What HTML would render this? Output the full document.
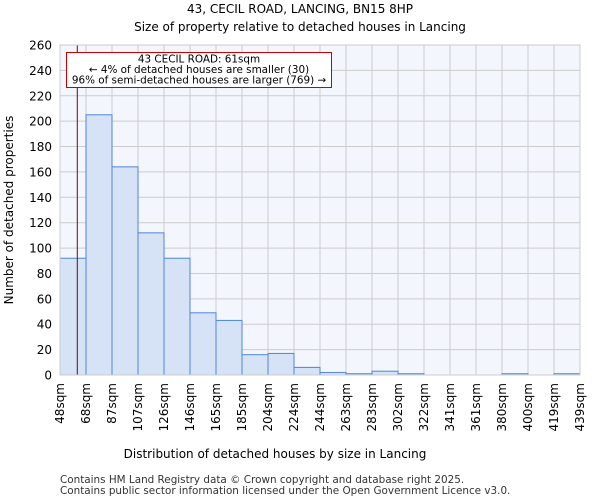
<!DOCTYPE html>
<html><head><meta charset="utf-8"><style>
body{margin:0;background:#fff;font-family:"DejaVu Sans","Liberation Sans",sans-serif}
</style></head><body>
<svg id="c" width="600" height="500" xmlns="http://www.w3.org/2000/svg">
<text x="300" y="13" text-anchor="middle" font-size="12">43, CECIL ROAD, LANCING, BN15 8HP</text>
<text x="300" y="31" text-anchor="middle" font-size="12">Size of property relative to detached houses in Lancing</text>
<rect x="60" y="45" width="520" height="330" fill="#f3f6fd"/>
<g id="grid"></g><g id="bars"></g><g id="axes"></g>
<text x="275" y="458" text-anchor="middle" font-size="12">Distribution of detached houses by size in Lancing</text>
<text transform="translate(13,210) rotate(-90)" text-anchor="middle" font-size="12">Number of detached properties</text>
<text x="60" y="483" font-size="10.4" fill="#333">Contains HM Land Registry data © Crown copyright and database right 2025.</text>
<text x="60" y="494" font-size="10.4" fill="#333">Contains public sector information licensed under the Open Government Licence v3.0.</text>
</svg>
<script>
const categories=["48sqm","68sqm","87sqm","107sqm","126sqm","146sqm","165sqm","185sqm","204sqm","224sqm","244sqm","263sqm","283sqm","302sqm","322sqm","341sqm","361sqm","380sqm","400sqm","419sqm","439sqm"];
const counts=[92,205,164,112,92,49,43,16,17,6,2,1,3,1,0,0,0,1,0,1];
const yTicks=[0,20,40,60,80,100,120,140,160,180,200,220,240,260];
const markerValue=61;
const binStart=48, binStep=19.55;
const NS="http://www.w3.org/2000/svg";
const X0=60,X1=580,Y0=375,Y1=45,YMAX=260;
const bw=(X1-X0)/counts.length;
const y=v=>Y0-(v/YMAX)*(Y0-Y1);
const xs=v=>X0+(v-binStart)/binStep*bw;
function mk(p,t,a){const e=document.createElementNS(NS,t);for(const k in a)e.setAttribute(k,a[k]);p.appendChild(e);return e;}
const g=document.getElementById('grid'),b=document.getElementById('bars'),ax=document.getElementById('axes');
yTicks.forEach(t=>{
 const l=mk(g,'line',{x1:X0,x2:X1,y1:y(t),y2:y(t),stroke:'#cccccc'});
 
 
 const tx=mk(ax,'text',{x:X0-8,y:y(t)+4.5,'text-anchor':'end','font-size':12});
 tx.textContent=t;
 
 
});
categories.forEach((c,i)=>{
 const xx=X0+i*bw;
 const l=mk(g,'line',{x1:xx,x2:xx,y1:Y1,y2:Y0,stroke:'#cccccc'});
 
 
 const tx=mk(ax,'text',{transform:`translate(${xx+4},${Y0+8}) rotate(-90)`,'text-anchor':'end','font-size':12});
 tx.textContent=c;
 
 
});
counts.forEach((v,i)=>{
 if(v<=0)return;
 const r=mk(b,'rect',{x:X0+i*bw,y:y(v),width:bw,height:Y0-y(v),fill:'#d6e2f5',stroke:'#4f86d6','stroke-width':1});
 
 
});
const mx=xs(markerValue);
const ml=mk(ax,'line',{x1:mx,x2:mx,y1:Y1,y2:Y0,stroke:'#5a1010','stroke-width':1});


const box=mk(ax,'rect',{x:66.5,y:52.5,width:265,height:35,fill:'#fff',stroke:'#cc0000'});


["43 CECIL ROAD: 61sqm","← 4% of detached houses are smaller (30)","96% of semi-detached houses are larger (769) →"].forEach((s,i)=>{
 const t=mk(ax,'text',{x:199,y:62.5+i*10.5,'text-anchor':'middle','font-size':10.4});
 t.textContent=s;
 
 
});
const f=mk(ax,'rect',{x:X0,y:Y1,width:X1-X0,height:Y0-Y1,fill:'none',stroke:'#cccccc'});


</script>
</body></html>
